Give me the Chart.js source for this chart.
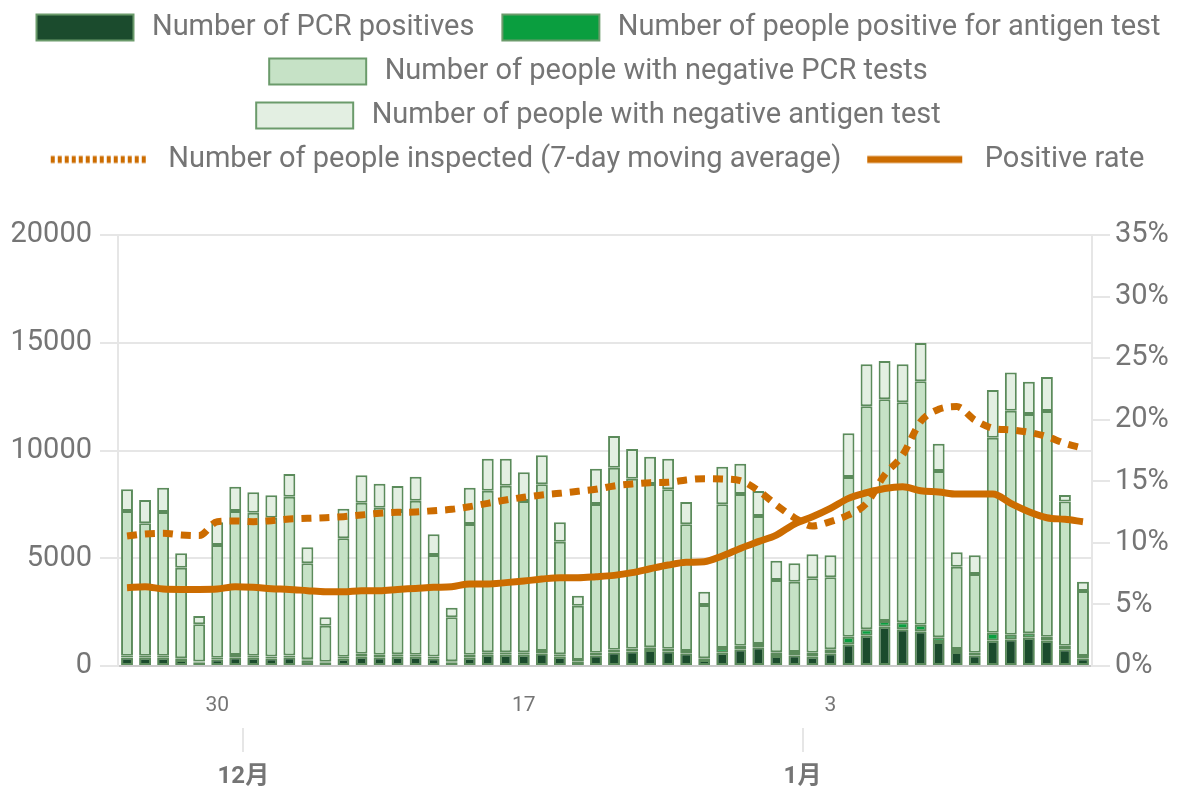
<!DOCTYPE html>
<html><head><meta charset="utf-8">
<script src="https://cdn.jsdelivr.net/npm/chart.js@4"></script>
<style>html,body{margin:0;padding:0;background:#fff}#wrap{width:1184px;height:787px;position:relative}</style>
</head><body><div id="wrap"><canvas id="c"></canvas></div>
<script>
const dates = ['11/25','11/26','11/27','11/28','11/29','11/30','12/1','12/2','12/3','12/4','12/5','12/6','12/7','12/8','12/9','12/10','12/11','12/12','12/13','12/14','12/15','12/16','12/17','12/18','12/19','12/20','12/21','12/22','12/23','12/24','12/25','12/26','12/27','12/28','12/29','12/30','12/31','1/1','1/2','1/3','1/4','1/5','1/6','1/7','1/8','1/9','1/10','1/11','1/12','1/13','1/14','1/15','1/16','1/17'];
const pcrPositive = [390,387,387,278,170,309,402,387,356,402,248,155,340,433,402,433,433,356,170,387,526,526,526,588,433,217,495,634,680,742,680,588,278,619,774,866,464,495,433,588,1005,1408,1825,1702,1609,1114,650,495,1176,1238,1315,1176,774,356];
const antigenPositive = [80,90,90,78,40,78,108,90,90,90,60,40,90,140,120,110,90,80,45,140,108,108,108,108,108,60,124,124,124,124,124,108,78,217,170,155,170,155,186,186,356,294,263,325,309,217,140,124,371,217,201,186,170,108];
const pcrNegative = [6723,6144,6670,4208,1724,5229,6684,6639,6438,7367,4457,1677,5495,7007,6826,6651,7150,4716,2044,6063,7503,7735,7024,7735,5229,2523,6899,8447,7890,7581,7395,5879,2475,6667,7039,5941,3357,3264,3450,3341,7410,10349,10288,10210,11293,7719,3820,3651,9050,10395,10179,10473,6690,3017];
const antigenNegative = [1006,1083,1129,665,386,1052,1129,944,1037,1052,742,387,1377,1269,1114,1160,1114,959,448,1686,1485,1253,1330,1346,898,464,1640,1469,1377,1268,1423,1036,619,1748,1407,1160,898,851,1113,1021,2027,1949,1779,1763,1779,1268,665,866,2212,1764,1501,1577,300,433];
const movingAvg7 = [6033,6126,6157,6080,6050,6698,6729,6698,6745,6822,6853,6884,6930,7008,7085,7132,7147,7209,7271,7395,7549,7704,7828,7936,8013,8106,8199,8354,8447,8509,8524,8632,8694,8679,8601,8137,7472,6884,6497,6698,7008,7549,8864,9792,11340,11912,12036,11417,11030,10953,10845,10643,10333,10102];
const positiveRate = [6.36,6.44,6.25,6.22,6.22,6.25,6.44,6.39,6.28,6.22,6.12,6.03,6.03,6.12,6.12,6.22,6.30,6.39,6.44,6.66,6.66,6.77,6.90,7.06,7.17,7.17,7.25,7.36,7.58,7.90,8.20,8.42,8.47,8.93,9.55,10.1,10.63,11.53,12.12,12.80,13.61,14.07,14.42,14.56,14.23,14.13,13.96,13.96,13.96,13.21,12.53,12.04,11.91,11.72];
const dayTickLabels = {5:'30', 22:'17', 39:'3'};
const monthTickPositions = [6.45, 37.45];
const monthTickLabels = ['12月','1月'];
const seriesNames = ['Number of PCR positives','Number of people positive for antigen test','Number of people with negative PCR tests','Number of people with negative antigen test','Number of people inspected (7-day moving average)','Positive rate'];

const GRAY = '#757575', GRID = '#e6e6e6', ORANGE = '#cc6c00', BARBORDER = '#5b8b5b';
const barFills = ['#1b4b2d','#0a9e3f','#c6e2c6','#e3efe2'];
const FONT = "Roboto, 'Noto Sans CJK JP', sans-serif";
const LB = 114, INSET = 13;

function legendImg(kind, color){
  const c = document.createElement('canvas'); c.width = LB; c.height = 30;
  const g = c.getContext('2d');
  if (kind === 'box') {
    g.fillStyle = color; g.fillRect(INSET,2,97,26);
    g.strokeStyle = '#6b9b6b'; g.lineWidth = 2; g.strokeRect(INSET,2,97,26);
  } else {
    g.strokeStyle = ORANGE; g.lineWidth = 7;
    if (kind === 'dot') g.setLineDash([4,3]);
    g.beginPath(); g.moveTo(INSET - 2,15); g.lineTo(INSET + 93,15); g.stroke();
  }
  return c;
}
const legendImgs = [legendImg('box',barFills[0]),legendImg('box',barFills[1]),legendImg('box',barFills[2]),legendImg('box',barFills[3]),legendImg('dot'),legendImg('line')];

const barSeries = [pcrPositive, antigenPositive, pcrNegative, antigenNegative];
const datasets = barSeries.map((d,i)=>({
  type:'bar', label: seriesNames[i], data: d, backgroundColor: barFills[i], borderColor: BARBORDER,
  borderWidth: 2, borderSkipped: false, stack:'s', yAxisID:'y', order: 2,
  categoryPercentage: 1, barPercentage: 0.66
}));
datasets.push({type:'line', label: seriesNames[4], data: movingAvg7, yAxisID:'y', borderColor: ORANGE, borderWidth: 7,
  borderDash:[10,8], pointRadius:0, fill:false, cubicInterpolationMode:'monotone', order: 1});
datasets.push({type:'line', label: seriesNames[5], data: positiveRate, yAxisID:'y1', borderColor: ORANGE, borderWidth: 7,
  pointRadius:0, fill:false, cubicInterpolationMode:'monotone', order: 0});

const legendSpacer = { id:'legendSpacer', beforeLayout(chart){
  const lg = chart.legend; if (!lg || lg._patched) return; lg._patched = true;
  const f = lg.fit; lg.fit = function(){ f.call(this); this.height = 237; };
}};

new Chart(document.getElementById('c'), {
  data: { labels: dates, datasets },
  plugins: [legendSpacer],
  options: {
    responsive: true, maintainAspectRatio: false, animation: false, events: [],
    layout: { padding: { top: -2 } },
    plugins: {
      tooltip: { enabled: false },
      legend: {
        position: 'top',
        labels: {
          usePointStyle: true, pointStyleWidth: LB, boxHeight: 29, padding: 15,
          color: GRAY, font: { family: FONT, size: 29 },
          generateLabels: (chart) => chart.data.datasets.map((ds,i)=>({
            text: ds.label, pointStyle: legendImgs[i], datasetIndex: i, fontColor: GRAY,
            fillStyle: 'transparent', strokeStyle: 'transparent', lineWidth: 0, hidden: false
          }))
        }
      }
    },
    scales: {
      x: {
        type: 'category', position: 'bottom', offset: true, weight: 0,
        grid: { display: false, drawTicks: false },
        border: { display: true, color: '#c9c9c9', width: 2 },
        ticks: { autoSkip: false, maxRotation: 0, padding: 27, color: GRAY, font: { family: FONT, size: 21 },
          callback: (v, i) => dayTickLabels[i] || '' },
        afterFit: (a) => { a.height = 62; }
      },
      x2: {
        type: 'linear', position: 'bottom', weight: 1, min: -0.5, max: 53.5,
        grid: { drawOnChartArea: false, drawTicks: true, tickLength: 24, color: GRID, lineWidth: 2 },
        border: { display: false },
        afterBuildTicks: (a) => { a.ticks = monthTickPositions.map(v => ({ value: v })); },
        ticks: { padding: 11, color: GRAY, font: { family: FONT, size: 24, weight: 'bold' },
          callback: (v, i) => monthTickLabels[i] },
        afterFit: (a) => { a.height = 59; }
      },
      y: {
        position: 'left', min: 0, max: 20000,
        grid: { color: GRID, lineWidth: 2, tickLength: 18 },
        border: { display: true, color: GRID, width: 2 },
        ticks: { stepSize: 5000, padding: 8, color: GRAY, font: { family: FONT, size: 29 }, callback: (v) => String(v) },
        afterFit: (a) => { a.width = 118; }
      },
      y1: {
        position: 'right', min: 0, max: 35,
        grid: { drawOnChartArea: false, color: GRID, lineWidth: 2, tickLength: 18 },
        border: { display: true, color: GRID, width: 2 },
        ticks: { stepSize: 5, padding: 5, color: GRAY, font: { family: FONT, size: 29 }, callback: (v) => v + '%' },
        afterFit: (a) => { a.width = 92; }
      }
    }
  }
});
</script></body></html>
